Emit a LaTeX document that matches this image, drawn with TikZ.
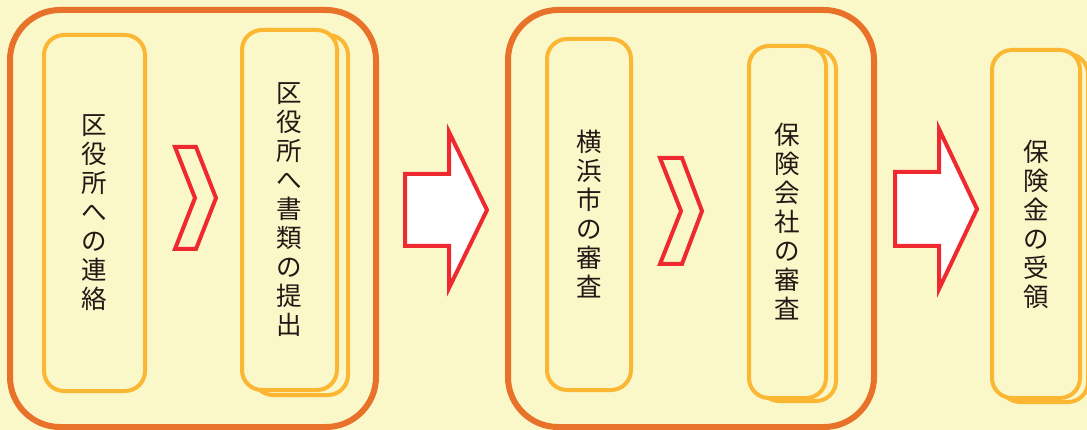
\documentclass[tikz,border=0pt]{standalone}
\usepackage{fontspec}
\setmainfont{Noto Sans CJK JP}
\usepackage{xcolor}
\definecolor{bgcolor}{HTML}{FAF7C8}
\definecolor{groupcolor}{HTML}{E8722A}
\definecolor{cardcolor}{HTML}{FBB733}
\definecolor{redcolor}{HTML}{EE2A30}
\definecolor{inkcolor}{HTML}{231815}

\begin{document}
\begin{tikzpicture}[x=1pt,y=-1pt,
    group/.style={draw=groupcolor,line width=6pt,rounded corners=50pt},
    card/.style={draw=cardcolor,line width=4pt,rounded corners=20pt,fill=bgcolor,
      inner sep=0pt,text=inkcolor,align=center,font=\fontsize{25.5}{29}\selectfont},
    chevron/.style={draw=redcolor,line width=4pt},
    bigarrow/.style={draw=redcolor,line width=4pt,fill=white}]
    \useasboundingbox (0,0) rectangle (1087,430);
    \clip (0,0) rectangle (1087,430);
    \fill [bgcolor] (0,0) rectangle (1087,430);
    % two groups
    \node [group, minimum width=366pt, minimum height=417pt] (kuyakusho) at (193,218.5) {};
    \node [group, minimum width=366pt, minimum height=417pt] (shinsa) at (691,218.5) {};
    % cards
    \node [card, minimum width=101pt, minimum height=356pt] (renraku) at (94.5,213) {区\\役\\所\\へ\\の\\連\\絡};
    \node [card, minimum width=95pt, minimum height=360pt] (teishutsu-back) at (300.5,215) {};
    \node [card, minimum width=95pt, minimum height=360pt] (teishutsu) at (289.5,210) {区\\役\\所\\へ\\書\\類\\の\\提\\出};
    \node [card, minimum width=84pt, minimum height=351pt] (shishinsa) at (589,214.5) {横\\浜\\市\\の\\審\\査};
    \node [card, minimum width=77pt, minimum height=352pt] (hokenshinsa-back) at (797.5,225) {};
    \node [card, minimum width=77pt, minimum height=352pt] (hokenshinsa) at (787.5,222) {保\\険\\会\\社\\の\\審\\査};
    \node [card, minimum width=88pt, minimum height=348pt] (juryo-back) at (1044,228) {};
    \node [card, minimum width=88pt, minimum height=348pt] (juryo) at (1036,224) {保\\険\\金\\の\\受\\領};
    % chevrons inside the groups
    \draw [chevron, shift={(175,198)}] (0,-51) -- (21,-51) -- (41,0) -- (21,51) -- (0,51) -- (20,0) -- cycle;
    \draw [chevron, shift={(660,211)}] (0,-53) -- (22,-53) -- (42,0) -- (22,53) -- (0,53) -- (21,0) -- cycle;
    % big arrows between the steps
    \draw [bigarrow, shift={(449,210)}] (-44,-36) -- (0,-36) -- (0,-78) -- (38,0) -- (0,78) -- (0,36) -- (-44,36) -- cycle;
    \draw [bigarrow, shift={(939,209)}] (-44,-37) -- (0,-37) -- (0,-80) -- (38,0) -- (0,80) -- (0,37) -- (-44,37) -- cycle;
\end{tikzpicture}
\end{document}
